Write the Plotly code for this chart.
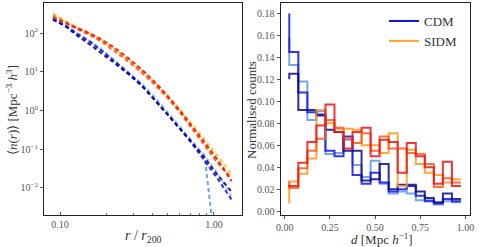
import plotly.graph_objects as go

# ---------------- Left panel: number density profiles ----------------
r_bins = [0.09, 0.11, 0.13, 0.16, 0.19, 0.23, 0.28, 0.34, 0.41, 0.50, 0.60, 0.72, 0.87, 1.05, 1.30]
n_cdm_navy = [230, 145, 85, 48, 28, 16, 8.5, 4.3, 1.9, 0.78, 0.33, 0.15, 0.060, 0.022, 0.008]
n_cdm_blue = [220, 150, 95, 56, 33, 18, 9.2, 4.5, 2.0, 0.80, 0.34, 0.14, 0.050, 0.018, 0.005]
n_cdm_corn = [230, 150, 95, 58, 34, 18, 9.5, 4.7, 2.1, 0.85, 0.36, 0.15, 0.065, 0.0001, None]
n_cdm_pale = [260, 160, 100, 60, 36, 19, 10, 5.0, 2.3, 0.90, 0.40, 0.17, 0.070, 0.025, 0.006]
n_sidm_red = [250, 180, 135, 95, 65, 40, 22, 11.5, 5.6, 2.4, 1.0, 0.40, 0.15, 0.055, 0.015]
n_sidm_ored = [270, 185, 125, 85, 57, 33, 18, 9.5, 4.8, 2.1, 0.90, 0.34, 0.12, 0.045, 0.017]
n_sidm_orng = [300, 190, 130, 90, 60, 36, 19, 10, 5.0, 2.2, 0.95, 0.38, 0.14, 0.050, 0.018]
n_sidm_gold = [320, 200, 140, 95, 65, 38, 21, 11, 5.5, 2.4, 1.1, 0.45, 0.18, 0.070, 0.022]

# ---------------- Right panel: normalised distance histograms ----------------
d_points = [0.025, 0.075, 0.125, 0.175, 0.225, 0.275, 0.325, 0.375, 0.425, 0.475,
            0.525, 0.575, 0.625, 0.675, 0.725, 0.775, 0.825, 0.875, 0.925, 0.975]
h_cdm_blue = [0.180, 0.145, 0.108, 0.090, 0.088, 0.055, 0.050, 0.068, 0.033, 0.025, 0.035,
              0.026, 0.018, 0.020, 0.023, 0.014, 0.009, 0.007, 0.011, 0.009]
h_cdm_navy = [0.120, 0.125, 0.092, 0.092, 0.087, 0.074, 0.072, 0.055, 0.055, 0.028, 0.029,
              0.043, 0.020, 0.024, 0.024, 0.018, 0.012, 0.008, 0.016, 0.011]
h_cdm_light = [0.158, 0.133, 0.118, 0.083, 0.091, 0.052, 0.053, 0.065, 0.042, 0.031, 0.046,
               0.025, 0.016, 0.018, 0.016, 0.010, 0.010, 0.006, 0.009, 0.008]
h_sidm_red = [0.022, 0.023, 0.044, 0.063, 0.078, 0.097, 0.072, 0.057, 0.072, 0.076, 0.050,
              0.065, 0.063, 0.035, 0.062, 0.050, 0.040, 0.025, 0.045, 0.023]
h_sidm_ored = [0.027, 0.021, 0.039, 0.055, 0.066, 0.083, 0.076, 0.066, 0.062, 0.071, 0.055,
               0.068, 0.057, 0.057, 0.053, 0.052, 0.043, 0.022, 0.030, 0.026]
h_sidm_orng = [0.007, 0.027, 0.034, 0.048, 0.092, 0.080, 0.075, 0.075, 0.074, 0.060, 0.060,
               0.053, 0.071, 0.023, 0.056, 0.043, 0.035, 0.033, 0.026, 0.029]

C_NAVY = "#0a0a8c"
C_BLUE = "#1414e6"
C_CORN = "#5f96ee"
C_PALE = "#a6c2ec"
C_RED = "#f01414"
C_ORED = "#ff5a1e"
C_ORNG = "#ff9a1e"
C_GOLD = "#ffc81e"

FONT = "Liberation Serif"
TXT = "#555555"

fig = go.Figure()

left_series = [
    (n_cdm_pale, C_PALE), (n_cdm_corn, C_CORN), (n_cdm_blue, C_BLUE), (n_cdm_navy, C_NAVY),
    (n_sidm_gold, C_GOLD), (n_sidm_orng, C_ORNG), (n_sidm_ored, C_ORED), (n_sidm_red, C_RED),
]
for vals, col in left_series:
    fig.add_trace(go.Scatter(x=r_bins, y=vals, mode="lines", xaxis="x", yaxis="y",
                             line=dict(color=col, width=2, dash="4px,3px"),
                             opacity=0.9, showlegend=False, connectgaps=False))

right_series = [
    (h_cdm_light, C_CORN), (h_cdm_blue, C_BLUE), (h_cdm_navy, C_NAVY),
    (h_sidm_orng, C_ORNG), (h_sidm_ored, C_ORED), (h_sidm_red, C_RED),
]
for vals, col in right_series:
    fig.add_trace(go.Scatter(x=d_points, y=vals, mode="lines", xaxis="x2", yaxis="y2",
                             line=dict(color=col, width=2, shape="vh"),
                             opacity=0.85, showlegend=False))

# legend entries
fig.add_trace(go.Scatter(x=[None], y=[None], mode="lines", xaxis="x2", yaxis="y2",
                         name="CDM", line=dict(color="#1010e0", width=2)))
fig.add_trace(go.Scatter(x=[None], y=[None], mode="lines", xaxis="x2", yaxis="y2",
                         name="SIDM", line=dict(color="#ffa030", width=2)))

W, H = 488, 247
def fx(px):
    return px / W
def fy(py):
    return 1 - py / H

axis_common = dict(showgrid=False, zeroline=False, showline=True, mirror=True,
                   linecolor="#222222", linewidth=1.2, ticks="outside", ticklen=3,
                   tickcolor="#555555", tickfont=dict(family=FONT, size=10, color=TXT),
                   automargin=False, ticklabeloverflow="allow")

def ann(text, x, y, size, angle=0):
    return dict(text=text, x=fx(x), y=fy(y), xref="paper", yref="paper",
                xanchor="center", yanchor="middle", showarrow=False, textangle=angle,
                font=dict(family=FONT, size=size, color="#333333"))

fig.update_layout(
    width=W, height=H,
    margin=dict(l=0, r=0, t=0, b=0),
    paper_bgcolor="white", plot_bgcolor="white",
    font=dict(family=FONT, color=TXT),
    xaxis=dict(axis_common, type="log", domain=[fx(44), fx(242)],
               range=[-1.104, 0.182], tickvals=[0.1, 1.0], ticktext=["0.10", "1.00"],
               ticks="inside",
               minor=dict(tickvals=[0.2, 0.3, 0.4, 0.5, 0.6, 0.7, 0.8, 0.9],
                          ticks="inside", ticklen=2, tickcolor="#777777"),
               anchor="y"),
    yaxis=dict(axis_common, type="log", domain=[fy(215), fy(3)],
               range=[-2.70, 2.78], tickvals=[0.01, 0.1, 1, 10, 100],
               ticktext=["10<sup>−2</sup>", "10<sup>−1</sup>", "10<sup>0</sup>",
                         "10<sup>1</sup>", "10<sup>2</sup>"],
               anchor="x"),
    xaxis2=dict(axis_common, domain=[fx(280.7), fx(470)], range=[-0.0225, 1.025],
                tickvals=[0, 0.25, 0.5, 0.75, 1.0],
                ticktext=["0.00", "0.25", "0.50", "0.75", "1.00"], anchor="y2"),
    yaxis2=dict(axis_common, domain=[fy(215), fy(3)], range=[-0.0035, 0.1895],
                tickvals=[0, 0.02, 0.04, 0.06, 0.08, 0.10, 0.12, 0.14, 0.16, 0.18],
                ticktext=["0.00", "0.02", "0.04", "0.06", "0.08", "0.10", "0.12",
                          "0.14", "0.16", "0.18"], anchor="x2"),
    legend=dict(x=fx(384), y=fy(6), xanchor="left", yanchor="top",
                bgcolor="rgba(0,0,0,0)", borderwidth=0,
                font=dict(family=FONT, size=13, color="#333333"),
                itemwidth=30, tracegroupgap=0),
    annotations=[
        ann("<i>r</i> / <i>r</i><sub>200</sub>", 143, 236, 14),
        ann("<i>d</i> [Mpc <i>h</i><sup>−1</sup>]", 382, 239, 13),
        ann("⟨<i>n</i>(<i>r</i>)⟩ [Mpc<sup>−3</sup> <i>h</i><sup>3</sup>]", 12, 110, 13, -90),
        ann("Normalised counts", 251, 110, 13, -90),
    ],
)

fig.write_html(
    "out.html", config={"displayModeBar": False},
    post_script=("document.documentElement.style.margin='0px';"
                 "document.documentElement.style.overflow='hidden';"
                 "document.body.style.margin='0px';"
                 "document.body.style.padding='0px';"
                 "document.body.style.overflow='hidden';"
                 "Plotly.relayout('{plot_id}', {});"))
